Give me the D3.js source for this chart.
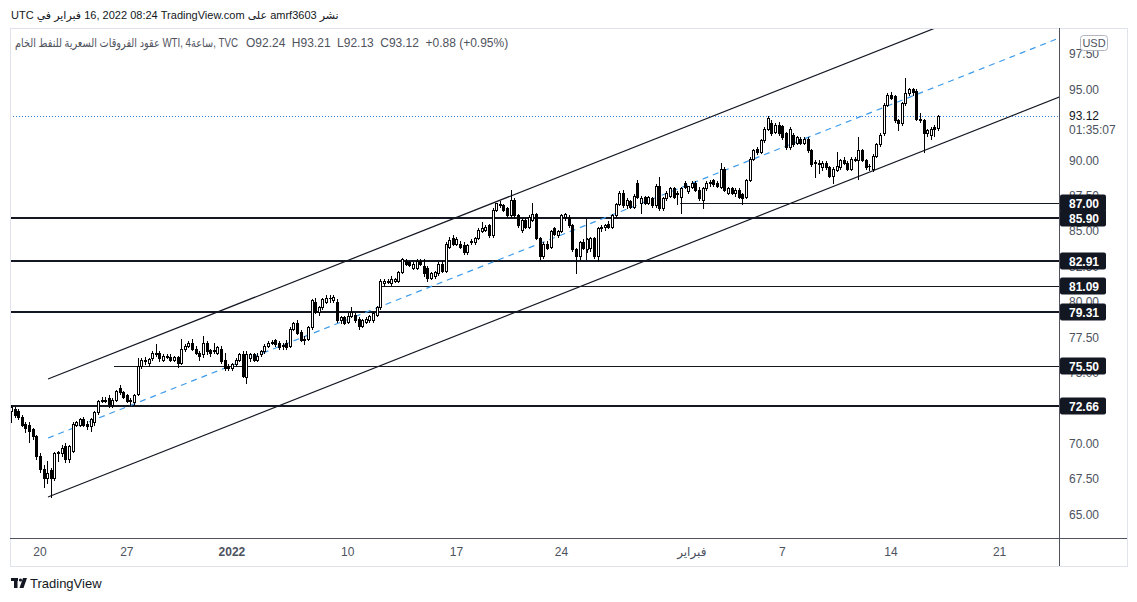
<!DOCTYPE html>
<html><head><meta charset="utf-8">
<script src="https://cdn.jsdelivr.net/npm/d3@7"></script>
<style>
body{margin:0;background:#fff}
svg{display:block}
text{font-family:"Liberation Sans",Arial,"DejaVu Sans",sans-serif}
</style>
</head><body>
<svg id="c" width="1137" height="602"></svg>
<script>
// ---- DATA (4h candles, WTI CFD) ----
const opens=[72.3,72.4,72.3,71.9,71.4,71.3,71.0,70.5,69.1,68.2,67.6,68.1,67.6,69.3,69.3,69.8,68.9,69.5,71.3,71.3,71.7,71.4,71.2,71.5,72.2,73.0,73.1,73.2,72.7,73.1,73.9,73.6,73.4,73.0,72.9,73.5,
75.5,75.9,75.7,76.0,76.3,76.4,75.9,76.2,76.1,75.9,76.1,75.7,76.7,76.9,77.1,76.7,76.4,76.3,77.1,76.6,76.5,76.4,76.7,75.9,75.5,75.3,75.6,75.9,76.3,74.7,76.0,76.3,75.9,76.3,76.5,76.9,77.1,77.3,77.1,76.9,77.1,76.9,78.1,78.5,77.9,
77.3,77.4,78.2,80.0,79.3,79.6,80.0,80.3,80.1,80.0,78.7,78.9,78.6,79.0,79.1,78.8,78.3,78.6,78.7,78.7,79.1,79.6,81.3,81.4,81.3,81.5,81.5,82.1,82.9,82.8,82.4,82.4,82.9,82.5,82.4,81.7,81.8,82.0,82.7,82.2,
83.9,84.5,84.1,84.1,84.0,83.5,84.2,84.2,84.5,85.0,85.1,85.4,84.7,86.5,86.9,86.8,86.6,86.1,87.2,86.1,85.1,85.8,85.3,85.8,86.2,84.5,83.2,84.1,83.9,85.2,84.7,85.0,86.0,86.0,85.4,83.7,83.2,84.2,83.7,
83.8,84.5,83.2,85.2,85.3,85.5,85.3,86.1,86.9,87.7,86.8,87.1,86.7,88.4,86.95,87.4,87.0,87.3,86.8,88.2,86.6,87.3,87.5,88.0,87.6,87.4,88.4,87.8,88.1,88.4,87.9,87.2,88.0,88.35,88.6,88.4,88.1,89.4,87.7,88.0,87.7,87.9,87.6,87.4,
88.6,90.1,90.8,90.6,91.4,92.2,92.6,92.0,92.5,92.4,91.9,90.9,91.8,91.2,91.5,91.2,91.5,90.7,89.8,89.8,89.5,89.8,89.5,88.9,89.3,89.5,90.0,89.8,89.4,90.0,90.0,90.7,90.0,89.6,89.4,90.3,91.1,91.9,93.9,94.6,94.5,92.8,92.6,94.0,94.7,95.0,94.9,92.9,92.8,91.9,91.8,92.3,92.24];
const highs=[72.7,72.6,72.4,72.0,71.5,71.5,71.1,70.6,69.3,68.5,68.8,68.3,69.4,69.5,69.9,70.0,69.9,71.5,71.6,71.8,71.9,71.6,71.8,72.3,73.1,73.3,73.3,73.4,73.2,73.8,74.1,73.7,73.5,73.2,73.5,76.0,
76.0,76.1,76.0,76.5,77.0,76.5,76.3,76.3,76.3,76.2,76.2,77.4,77.0,77.2,77.4,76.9,76.5,77.6,77.2,76.7,77.1,76.9,76.9,76.4,75.6,75.7,76.0,76.4,76.5,76.5,76.4,76.4,76.4,76.6,77.0,77.2,77.3,77.4,77.2,77.1,77.3,78.2,78.6,78.7,78.0,
77.6,78.3,80.2,80.3,79.7,80.3,80.5,80.5,80.5,80.2,79.0,79.0,79.2,79.6,79.2,78.9,78.8,78.9,79.1,79.3,79.7,81.6,81.6,81.6,81.8,81.7,82.2,83.1,83.0,82.9,82.8,83.0,83.0,83.0,82.5,82.1,82.2,82.8,82.9,84.2,
84.6,84.7,84.6,84.3,84.2,84.1,84.4,84.6,85.2,85.6,85.4,85.5,86.6,87.0,87.1,86.9,86.7,87.9,87.3,86.2,85.9,85.9,86.1,87.0,86.3,84.6,84.2,84.3,85.1,85.3,85.1,86.2,86.3,86.1,85.5,83.8,84.3,84.4,84.5,
84.6,84.6,85.3,85.4,85.5,85.7,86.2,87.0,87.8,87.9,87.3,87.2,87.6,88.6,87.5,87.5,87.5,87.4,88.3,88.8,87.4,87.8,88.1,88.1,87.8,88.1,88.5,88.2,88.5,88.5,88.1,88.1,88.5,88.6,88.7,88.5,89.8,89.5,88.1,88.1,88.0,88.0,87.7,88.7,
90.2,90.8,90.9,91.5,92.3,93.1,92.8,92.6,92.7,92.5,92.0,92.3,91.9,91.7,91.6,91.6,91.6,90.8,90.0,90.0,89.9,89.9,89.6,89.5,90.6,90.1,90.2,89.9,90.2,90.2,91.6,90.8,90.1,89.7,90.4,91.2,91.9,94.0,94.7,94.8,94.6,92.9,94.1,95.8,95.1,95.1,95.0,93.3,92.9,92.2,92.3,92.5,93.21];
const lows=[71.5,71.9,71.7,71.2,70.8,70.1,70.3,68.9,68.0,66.9,67.2,66.2,67.4,68.8,69.1,68.7,68.7,69.4,71.2,71.2,71.2,71.0,70.9,71.3,72.1,72.9,72.9,72.6,72.6,73.0,73.5,73.2,72.9,72.7,72.7,73.4,
75.3,75.6,75.5,75.9,76.2,75.8,75.8,76.0,75.8,75.8,75.4,75.6,76.5,76.8,76.6,76.3,75.9,76.1,76.3,76.2,76.4,76.3,75.7,75.2,75.2,75.2,75.5,75.8,74.7,74.3,75.8,75.8,75.8,76.2,76.4,76.8,77.0,76.9,76.7,76.7,76.7,76.8,78.0,77.7,77.2,
77.0,77.3,78.1,79.2,79.1,79.5,79.9,80.0,80.0,78.6,78.5,78.4,78.5,78.9,78.6,78.1,78.2,78.5,78.6,78.6,79.0,79.5,81.1,81.3,81.2,81.4,81.4,82.0,82.6,82.5,82.3,82.3,82.6,81.8,81.5,81.6,81.7,81.9,82.1,82.1,
83.8,84.0,84.0,83.8,83.4,83.4,84.1,84.1,84.4,84.9,85.0,84.6,84.6,86.4,86.7,86.4,86.0,86.0,86.0,85.3,84.9,85.2,85.2,85.7,84.4,83.0,83.1,83.7,83.8,84.7,84.6,84.9,85.8,85.3,83.6,82.0,83.0,83.7,83.5,
83.6,83.1,82.9,85.0,85.1,85.2,85.2,86.0,86.8,86.7,86.6,86.6,86.6,87.3,86.3,86.9,86.9,86.7,86.7,86.5,86.5,87.2,87.4,87.3,86.9,86.3,88.0,87.7,88.0,87.8,87.2,86.6,87.9,88.2,88.2,88.1,88.0,87.8,87.6,87.6,87.5,87.3,86.9,87.3,
88.5,90.0,90.4,90.5,91.3,92.1,91.8,91.9,91.8,91.5,90.8,90.8,91.0,91.1,91.1,91.1,90.6,89.6,88.8,89.1,89.3,89.4,88.8,88.4,89.2,89.4,89.7,89.3,89.3,89.9,88.7,89.9,89.4,89.3,89.2,90.2,91.0,91.8,93.8,94.3,92.7,92.1,92.5,93.9,94.6,94.6,92.8,92.7,90.6,91.7,91.5,91.7,92.13];
const closes=[72.6,72.0,71.9,71.3,71.1,70.9,70.5,69.1,68.2,67.6,67.9,67.6,69.3,69.4,69.7,68.9,69.8,71.4,71.5,71.7,71.3,71.2,71.7,72.2,73.0,73.1,73.0,72.8,73.1,73.7,73.6,73.3,73.0,73.1,73.4,75.5,
75.9,75.8,75.95,76.4,76.4,76.0,76.2,76.1,75.9,76.1,75.7,76.7,76.9,77.1,76.7,76.4,76.2,77.1,76.5,76.4,76.6,76.8,75.8,75.3,75.35,75.6,75.9,76.3,74.75,76.3,76.3,75.9,76.2,76.5,76.9,77.1,77.15,77.0,76.8,76.95,76.8,78.1,78.5,77.8,77.3,
77.4,78.2,80.1,79.3,79.6,80.2,80.3,80.25,80.35,78.7,78.9,78.5,79.0,79.3,78.7,78.3,78.7,78.8,79.0,79.2,79.6,81.5,81.5,81.45,81.6,81.6,82.1,83.0,82.7,82.6,82.7,82.9,82.7,82.0,81.7,82.0,82.1,82.7,82.2,84.1,
84.35,84.1,84.4,83.9,83.5,84.0,84.3,84.5,85.1,85.2,85.3,84.7,86.5,86.95,86.85,86.5,86.1,87.2,86.1,85.4,85.8,85.3,86.0,86.2,84.5,83.2,84.1,83.8,85.0,84.8,85.0,86.1,86.2,85.4,83.7,83.2,84.2,83.8,84.4,
84.5,83.2,85.2,85.3,85.4,85.3,86.1,86.9,87.7,86.8,87.2,86.7,87.5,87.4,87.3,87.0,87.4,86.8,88.2,86.6,87.3,87.7,88.0,87.4,87.65,88.0,88.1,88.15,88.4,87.9,87.3,88.0,88.4,88.45,88.3,88.2,89.4,87.9,88.0,87.7,87.9,87.4,87.3,88.6,
90.1,90.7,90.6,91.4,92.2,93.0,91.9,92.5,91.9,91.6,90.9,92.2,91.1,91.6,91.2,91.5,90.7,89.7,89.85,89.75,89.8,89.5,88.9,89.4,89.6,90.0,89.8,89.4,90.05,90.1,90.7,90.0,89.5,89.6,90.3,91.1,91.8,93.9,94.6,94.4,92.8,92.6,94.0,94.7,95.0,94.8,92.9,92.85,91.9,92.1,92.2,92.2,93.12];

// time-axis labels (bar index where each label sits)
const timeTickIdx=[8,32,61,93,123,152,188,213,243,273];
const timeTickLabels=["20","27","2022","10","17","24","فبراير","7","14","21"];
const timeTickBold=[false,false,true,false,false,false,false,false,false,false];
// price-axis ticks (those fully hidden behind labels are left out)
const priceTicks=[65,67.5,70,75,77.5,80,82.5,85,87.5,90,95,97.5];
// horizontal levels: price, start bar index (null = full width), thick?
const levelPrices=[87.00,85.90,82.91,81.09,79.31,75.50,72.66];
const levelStart=[184.8,null,null,101.9,null,28.45,null];
const levelThick=[false,true,true,false,true,false,true];
// parallel channel (two anchor points on lower line + width in price)
const channelIdx=[10.22,251.1];
const channelLow=[66.22,90.57];
const channelWidth=8.33;
// vertical segment drawing
const vSegIdx=[158.9], vSegFrom=[82.91], vSegTo=[85.90];
const lastPrice=93.12, countdown="01:35:07";
const headerTokens=["UTC","في","فبراير","16,","2022","08:24","TradingView.com","على","amrf3603","نشر"];
const legendTitle="عقود الفروقات السعرية للنفط الخام WTI, 4ساعة, TVC";
const legendValues=["O92.24","H93.21","L92.13","C93.12","+0.88 (+0.95%)"];

// ---- LAYOUT ----
const svg=d3.select("#c");
const L=10, T=28, R=1059, B=538, FR=1127, FB=566;
const x=d3.scaleLinear().domain([0,opens.length-1]).range([11,938]);
const y=d3.scaleLinear().domain([65,97.5]).range([514.35,53.8]);
const dark="#131722", axisTxt="#4c525e";

svg.append("rect").attr("width",1137).attr("height",602).attr("fill","#fff");
svg.append("defs").append("clipPath").attr("id","pane").append("rect")
  .attr("x",L+1).attr("y",T+1).attr("width",R-L-1).attr("height",B-T-1);

const pane=svg.append("g").attr("clip-path","url(#pane)");

// levels
levelPrices.forEach((p,k)=>{
  const yy=Math.round(y(p));
  const x0=levelStart[k]===null?L:x(levelStart[k]);
  pane.append("line").attr("x1",x0).attr("x2",R).attr("y1",levelThick[k]?yy:yy+0.5).attr("y2",levelThick[k]?yy:yy+0.5)
    .attr("stroke",dark).attr("stroke-width",levelThick[k]?2:1);
});
// vertical segment
vSegIdx.forEach((vi,k)=>{
  const xx=Math.round(x(vi))+0.5;
  pane.append("line").attr("x1",xx).attr("x2",xx).attr("y1",y(vSegTo[k])).attr("y2",y(vSegFrom[k]))
    .attr("stroke",dark).attr("stroke-width",1);
});
// last price dotted line
pane.append("line").attr("x1",L).attr("x2",R).attr("y1",Math.round(y(lastPrice))+0.5).attr("y2",Math.round(y(lastPrice))+0.5)
  .attr("stroke","#2f7fe0").attr("stroke-width",1).attr("stroke-dasharray","1 2");

// channel
const slope=(channelLow[1]-channelLow[0])/(channelIdx[1]-channelIdx[0]);
const iEnd=320;
function chan(off){
  return [[x(channelIdx[0]),y(channelLow[0]+off)],[x(iEnd),y(channelLow[0]+slope*(iEnd-channelIdx[0])+off)]];
}
const lineGen=d3.line();
pane.append("path").attr("d",lineGen(chan(0))).attr("stroke",dark).attr("stroke-width",1.2).attr("fill","none");
pane.append("path").attr("d",lineGen(chan(channelWidth))).attr("stroke",dark).attr("stroke-width",1.2).attr("fill","none");
pane.append("path").attr("d",lineGen(chan(channelWidth/2))).attr("stroke","#3d9be9").attr("stroke-width",1.2)
  .attr("stroke-dasharray","6 5").attr("fill","none");

// candles
const data=opens.map((o,i)=>({i,o,h:highs[i],l:lows[i],c:closes[i]}));
const cg=pane.append("g").attr("shape-rendering","crispEdges");
const cs=cg.selectAll("g").data(data).join("g");
cs.each(function(d){
  const g=d3.select(this);
  const cx=Math.round(x(d.i));
  const yh=Math.round(y(d.h)), yl=Math.round(y(d.l));
  const yt=Math.round(y(Math.max(d.o,d.c))), yb=Math.round(y(Math.min(d.o,d.c)));
  const hh=Math.max(1,yb-yt+1);
  g.append("rect").attr("x",cx).attr("y",yh).attr("width",1).attr("height",Math.max(1,yl-yh+1)).attr("fill","#000");
  g.append("rect").attr("x",cx-1).attr("y",yt).attr("width",3).attr("height",hh).attr("fill","#000");
  if(d.c>d.o && hh>=3){
    g.append("rect").attr("x",cx).attr("y",yt+1).attr("width",1).attr("height",hh-2).attr("fill","#fff");
  }
});

// frame & separators
svg.append("rect").attr("x",L+0.5).attr("y",T+0.5).attr("width",FR-L).attr("height",FB-T).attr("fill","none").attr("stroke","#e0e3eb");
svg.append("line").attr("x1",R+0.5).attr("x2",R+0.5).attr("y1",T).attr("y2",FB).attr("stroke","#50535e");
svg.append("line").attr("x1",L).attr("x2",FR).attr("y1",B+0.5).attr("y2",B+0.5).attr("stroke","#50535e");

// price axis ticks
const pa=svg.append("g");
priceTicks.forEach(p=>{
  pa.append("text").attr("x",1069).attr("y",y(p)+4.5).attr("font-size",12).attr("fill",axisTxt).text(d3.format(".2f")(p));
});
// last price label
pa.append("rect").attr("x",R+1).attr("y",y(lastPrice)-8).attr("width",60).attr("height",30).attr("fill","#fff");
pa.append("text").attr("x",1069).attr("y",y(lastPrice)+4.5).attr("font-size",12).attr("fill",dark).text(d3.format(".2f")(lastPrice));
pa.append("text").attr("x",1069).attr("y",y(lastPrice)+18.5).attr("font-size",12).attr("fill",axisTxt).text(countdown);
// level labels
levelPrices.forEach(p=>{
  const yy=Math.round(y(p));
  pa.append("rect").attr("x",R+1).attr("y",yy-8.5).attr("width",46).attr("height",17).attr("rx",2).attr("fill",dark);
  pa.append("text").attr("x",1069).attr("y",yy+4.5).attr("font-size",12).attr("font-weight","bold").attr("fill","#fff").text(d3.format(".2f")(p));
});
// USD badge
pa.append("rect").attr("x",1080.5).attr("y",35.5).attr("width",27).attr("height",15).attr("rx",3).attr("fill","#fff").attr("stroke","#b2b5be");
pa.append("text").attr("x",1094).attr("y",47).attr("text-anchor","middle").attr("font-size",11).attr("fill","#50535e").text("USD");

// time axis
timeTickIdx.forEach((ti,k)=>{
  svg.append("text").attr("x",x(ti)).attr("y",556).attr("text-anchor","middle").attr("font-size",12)
    .attr("font-weight",timeTickBold[k]?"bold":"normal").attr("fill",axisTxt).text(timeTickLabels[k]);
});

// header line 1 (visual order tokens)
let hx=11;
headerTokens.forEach(t=>{
  const el=svg.append("text").attr("x",hx).attr("y",19).attr("font-size",11).attr("fill",dark).text(t);
  hx+=el.node().getComputedTextLength()+3.1;
});
// legend line 2
const lt=svg.append("text").attr("x",15).attr("y",47).attr("font-size",12).attr("fill","#50535e").text(legendTitle);
if(lt.node().getComputedTextLength()>223){lt.attr("textLength",223).attr("lengthAdjust","spacingAndGlyphs");}
let lx=15+Math.min(223,lt.node().getComputedTextLength())+8;
legendValues.forEach(t=>{
  const el=svg.append("text").attr("x",lx).attr("y",47).attr("font-size",12).attr("fill","#50535e").text(t);
  lx+=el.node().getComputedTextLength()+6.5;
});

// TradingView logo
const lg=svg.append("g").attr("fill",dark);
lg.append("rect").attr("x",11).attr("y",578).attr("width",7).attr("height",3);
lg.append("rect").attr("x",14).attr("y",578).attr("width",3.5).attr("height",10);
lg.append("circle").attr("cx",20.5).attr("cy",580).attr("r",1.6);
lg.append("path").attr("d","M23,578 L27,578 L23.5,588 L19.5,588 Z");
svg.append("text").attr("x",30).attr("y",588).attr("font-size",13).attr("fill",dark).text("TradingView");
</script>
</body></html>
